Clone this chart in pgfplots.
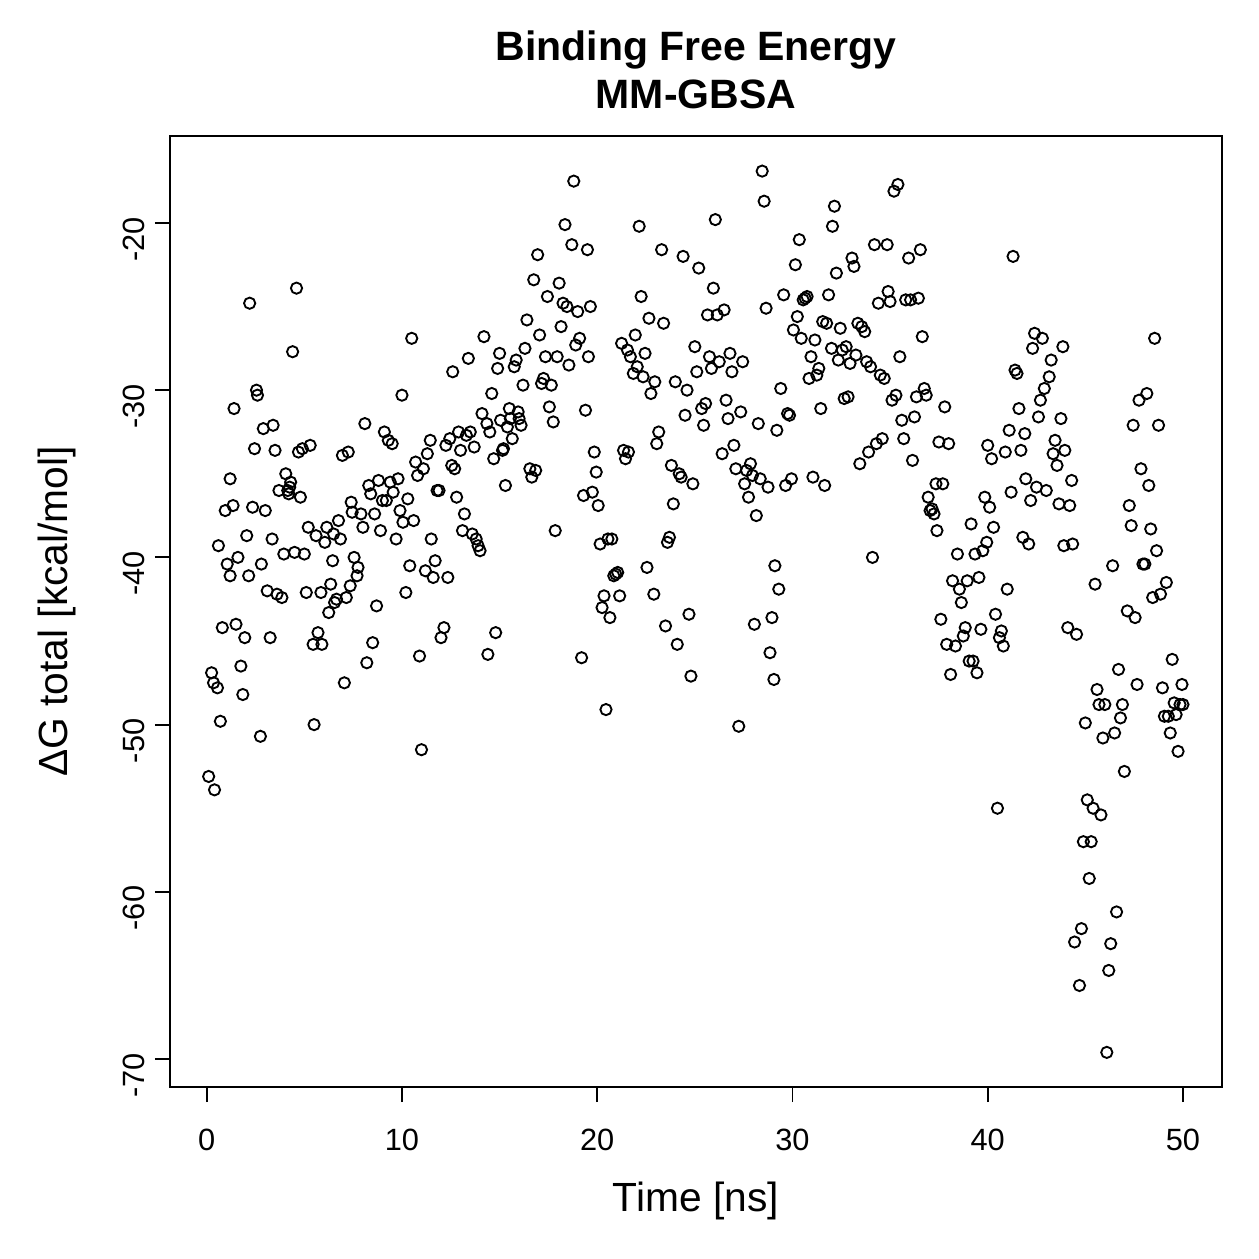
\documentclass[border=0pt]{standalone}
\usepackage{fontspec}
\setmainfont{Liberation Sans}
\usepackage{pgfplots}
\pgfplotsset{compat=1.18}
\begin{document}
\fontsize{12pt}{14.4pt}\selectfont
\begin{tikzpicture}
\useasboundingbox (-68pt,-68.8pt) rectangle (435.6pt,434.8pt);
\begin{axis}[
  at={(0,0)}, anchor=south west,
  scale only axis, width=420.8pt, height=380.4pt,
  xmin=-1.88, xmax=52.0, ymin=-71.67, ymax=-14.80,
  axis line style={line width=0.75pt},
  tick style={line width=0.75pt, black},
  tick align=outside, major tick length=6pt,
  xtick pos=left, ytick pos=left,
  xtick={0,10,20,30,40,50}, xticklabels={0,10,20,30,40,50},
  ytick={-70,-60,-50,-40,-30,-20}, yticklabels={-70,-60,-50,-40,-30,-20},
  xticklabel style={font=\fontsize{12.3pt}{14.4pt}\selectfont, anchor=north, yshift=-6.5pt},
  yticklabel style={font=\fontsize{12.3pt}{14.4pt}\selectfont, rotate=90, anchor=south, xshift=-6.5pt},
  xlabel={Time [ns]},
  ylabel={ΔG total [kcal/mol]},
  xlabel style={font=\fontsize{16.3pt}{19.2pt}\selectfont, at={(axis description cs:0.5,-0.1314)}, anchor=base, inner sep=0pt},
  ylabel style={font=\fontsize{16.3pt}{19.2pt}\selectfont, at={(axis description cs:-0.097,0.5)}, anchor=base, inner sep=0pt},
  title={Binding Free Energy\\MM-GBSA},
  title style={font=\bfseries\fontsize{16.4pt}{19.2pt}\selectfont, align=center, at={(axis description cs:0.5,1)}, anchor=south, inner sep=0pt, yshift=4.6pt},
]
\addplot[only marks, mark=o, mark size=2.25pt, mark options={line width=0.75pt, black}] table {
x y
0.1 -53.1
0.25 -46.9
0.35 -47.5
0.4 -53.9
0.55 -47.8
0.6 -39.3
0.7 -49.8
0.8 -44.2
0.95 -37.2
1.05 -40.4
1.2 -35.3
1.2 -41.1
1.35 -36.9
1.4 -31.1
1.5 -44.0
1.6 -40.0
1.75 -46.5
1.85 -48.2
1.95 -44.8
2.05 -38.7
2.15 -41.1
2.2 -24.8
2.35 -37.0
2.45 -33.5
2.55 -30.0
2.6 -30.3
2.75 -50.7
2.8 -40.4
2.9 -32.3
3.0 -37.2
3.1 -42.0
3.25 -44.8
3.35 -38.9
3.4 -32.1
3.5 -33.6
3.6 -42.2
3.7 -36.0
3.85 -42.4
3.95 -39.8
4.05 -35.0
4.15 -36.0
4.2 -36.2
4.25 -35.8
4.3 -35.5
4.4 -27.7
4.5 -39.7
4.6 -23.9
4.7 -33.7
4.8 -36.4
4.9 -33.5
5.0 -39.8
5.1 -42.1
5.2 -38.2
5.3 -33.3
5.45 -45.2
5.5 -50.0
5.6 -38.7
5.7 -44.5
5.85 -42.1
5.9 -45.2
6.05 -39.1
6.15 -38.2
6.25 -43.3
6.35 -41.6
6.45 -40.2
6.5 -38.6
6.55 -42.7
6.65 -42.5
6.75 -37.8
6.85 -38.9
6.95 -33.9
7.05 -47.5
7.15 -42.4
7.25 -33.7
7.35 -41.7
7.4 -36.7
7.45 -37.3
7.55 -40.0
7.7 -41.1
7.75 -40.6
7.9 -37.4
8.0 -38.2
8.1 -32.0
8.2 -46.3
8.3 -35.7
8.4 -36.2
8.5 -45.1
8.6 -37.4
8.7 -42.9
8.8 -35.4
8.9 -38.4
9.0 -36.6
9.1 -32.5
9.2 -36.6
9.3 -33.0
9.4 -35.5
9.5 -33.2
9.55 -36.1
9.7 -38.9
9.8 -35.3
9.9 -37.2
10.0 -30.3
10.05 -37.9
10.2 -42.1
10.3 -36.5
10.4 -40.5
10.5 -26.9
10.6 -37.8
10.7 -34.3
10.8 -35.1
10.9 -45.9
11.0 -51.5
11.1 -34.7
11.2 -40.8
11.3 -33.8
11.45 -33.0
11.5 -38.9
11.6 -41.2
11.7 -40.2
11.8 -36.0
11.9 -36.0
12.0 -44.8
12.15 -44.2
12.25 -33.3
12.35 -41.2
12.45 -32.9
12.55 -34.5
12.6 -28.9
12.7 -34.7
12.8 -36.4
12.9 -32.5
13.0 -33.6
13.1 -38.4
13.2 -37.4
13.3 -32.7
13.4 -28.1
13.5 -32.5
13.6 -38.6
13.7 -33.4
13.8 -38.9
13.9 -39.3
14.0 -39.6
14.1 -31.4
14.2 -26.8
14.35 -32.0
14.4 -45.8
14.5 -32.5
14.6 -30.2
14.7 -34.1
14.8 -44.5
14.9 -28.7
15.0 -27.8
15.05 -31.8
15.15 -33.6
15.2 -33.5
15.3 -35.7
15.4 -32.2
15.5 -31.1
15.55 -31.7
15.65 -32.9
15.75 -28.6
15.85 -28.2
15.95 -31.3
16.0 -31.7
16.1 -32.1
16.2 -29.7
16.3 -27.5
16.4 -25.8
16.55 -34.7
16.65 -35.2
16.75 -23.4
16.85 -34.8
16.95 -21.9
17.05 -26.7
17.15 -29.6
17.25 -29.3
17.35 -28.0
17.45 -24.4
17.55 -31.0
17.65 -29.7
17.75 -31.9
17.85 -38.4
17.95 -28.0
18.05 -23.6
18.15 -26.2
18.25 -24.8
18.35 -20.1
18.45 -25.0
18.55 -28.5
18.7 -21.3
18.8 -17.5
18.9 -27.3
19.0 -25.3
19.1 -26.9
19.2 -46.0
19.3 -36.3
19.4 -31.2
19.5 -21.6
19.55 -28.0
19.65 -25.0
19.75 -36.1
19.85 -33.7
19.95 -34.9
20.05 -36.9
20.15 -39.2
20.25 -43.0
20.35 -42.3
20.45 -49.1
20.55 -38.9
20.65 -43.6
20.75 -38.9
20.85 -41.1
20.95 -41.0
21.05 -40.9
21.15 -42.3
21.25 -27.2
21.35 -33.6
21.45 -34.1
21.55 -27.6
21.6 -33.7
21.7 -28.0
21.85 -29.0
21.95 -26.7
22.05 -28.6
22.15 -20.2
22.25 -24.4
22.35 -29.2
22.45 -27.8
22.55 -40.6
22.65 -25.7
22.75 -30.2
22.9 -42.2
22.95 -29.5
23.05 -33.2
23.15 -32.5
23.3 -21.6
23.4 -26.0
23.5 -44.1
23.6 -39.1
23.7 -38.8
23.8 -34.5
23.9 -36.8
24.0 -29.5
24.1 -45.2
24.2 -35.0
24.3 -35.2
24.4 -22.0
24.5 -31.5
24.6 -30.0
24.7 -43.4
24.8 -47.1
24.9 -35.6
25.0 -27.4
25.1 -28.9
25.2 -22.7
25.35 -31.1
25.45 -32.1
25.55 -30.8
25.65 -25.5
25.75 -28.0
25.85 -28.7
25.95 -23.9
26.05 -19.8
26.15 -25.5
26.25 -28.3
26.4 -33.8
26.5 -25.2
26.6 -30.6
26.7 -31.7
26.8 -27.8
26.9 -28.9
27.0 -33.3
27.1 -34.7
27.25 -50.1
27.35 -31.3
27.45 -28.3
27.55 -35.6
27.65 -34.8
27.75 -36.4
27.85 -34.4
27.95 -35.1
28.05 -44.0
28.15 -37.5
28.25 -32.0
28.35 -35.3
28.45 -16.9
28.55 -18.7
28.65 -25.1
28.75 -35.8
28.85 -45.7
28.95 -43.6
29.05 -47.3
29.1 -40.5
29.2 -32.4
29.3 -41.9
29.4 -29.9
29.55 -24.3
29.65 -35.7
29.75 -31.4
29.85 -31.5
29.95 -35.3
30.05 -26.4
30.15 -22.5
30.25 -25.6
30.35 -21.0
30.45 -26.9
30.55 -24.6
30.65 -24.5
30.75 -24.4
30.85 -29.3
30.95 -28.0
31.05 -35.2
31.15 -27.0
31.25 -29.1
31.35 -28.7
31.45 -31.1
31.55 -25.9
31.65 -35.7
31.75 -26.0
31.85 -24.3
32.0 -27.5
32.05 -20.2
32.15 -19.0
32.25 -23.0
32.35 -28.2
32.45 -26.3
32.55 -27.6
32.65 -30.5
32.75 -27.4
32.85 -30.4
32.95 -28.4
33.05 -22.1
33.15 -22.6
33.25 -27.9
33.35 -26.0
33.45 -34.4
33.55 -26.2
33.7 -26.5
33.8 -28.3
33.9 -33.7
34.0 -28.6
34.1 -40.0
34.2 -21.3
34.3 -33.2
34.4 -24.8
34.5 -29.1
34.6 -32.9
34.7 -29.3
34.85 -21.3
34.9 -24.1
35.0 -24.7
35.1 -30.6
35.2 -18.1
35.3 -30.3
35.4 -17.7
35.5 -28.0
35.6 -31.8
35.7 -32.9
35.8 -24.6
35.95 -22.1
36.05 -24.6
36.15 -34.2
36.25 -31.6
36.35 -30.4
36.45 -24.5
36.55 -21.6
36.65 -26.8
36.75 -29.9
36.85 -30.3
36.95 -36.4
37.05 -37.2
37.15 -37.1
37.25 -37.4
37.35 -35.6
37.4 -38.4
37.5 -33.1
37.6 -43.7
37.7 -35.6
37.8 -31.0
37.9 -45.2
38.0 -33.2
38.1 -47.0
38.2 -41.4
38.35 -45.3
38.45 -39.8
38.55 -41.9
38.65 -42.7
38.75 -44.7
38.85 -44.2
38.95 -41.4
39.05 -46.2
39.15 -38.0
39.25 -46.2
39.35 -39.8
39.45 -46.9
39.55 -41.2
39.65 -44.3
39.75 -39.6
39.85 -36.4
39.95 -39.1
40.0 -33.3
40.1 -37.0
40.2 -34.1
40.3 -38.2
40.4 -43.4
40.5 -55.0
40.6 -44.8
40.7 -44.4
40.8 -45.3
40.9 -33.7
41.0 -41.9
41.1 -32.4
41.2 -36.1
41.3 -22.0
41.4 -28.8
41.5 -29.0
41.6 -31.1
41.7 -33.6
41.8 -38.8
41.9 -32.6
41.95 -35.3
42.1 -39.2
42.2 -36.6
42.3 -27.5
42.4 -26.6
42.5 -35.8
42.6 -31.6
42.7 -30.6
42.8 -26.9
42.9 -29.9
43.0 -36.0
43.15 -29.2
43.25 -28.2
43.35 -33.8
43.45 -33.0
43.55 -34.5
43.65 -36.8
43.75 -31.7
43.85 -27.4
43.9 -39.3
43.95 -33.6
44.1 -44.2
44.2 -36.9
44.3 -35.4
44.35 -39.2
44.45 -63.0
44.55 -44.6
44.7 -65.6
44.8 -62.2
44.9 -57.0
45.0 -49.9
45.1 -54.5
45.2 -59.2
45.3 -57.0
45.4 -55.0
45.5 -41.6
45.6 -47.9
45.7 -48.8
45.8 -55.4
45.9 -50.8
46.0 -48.8
46.1 -69.6
46.2 -64.7
46.3 -63.1
46.4 -40.5
46.5 -50.5
46.6 -61.2
46.7 -46.7
46.8 -49.6
46.9 -48.8
47.0 -52.8
47.15 -43.2
47.25 -36.9
47.35 -38.1
47.45 -32.1
47.55 -43.6
47.65 -47.6
47.75 -30.6
47.85 -34.7
47.95 -40.4
48.05 -40.4
48.15 -30.2
48.25 -35.7
48.35 -38.3
48.45 -42.4
48.55 -26.9
48.65 -39.6
48.75 -32.1
48.85 -42.2
48.95 -47.8
49.05 -49.5
49.15 -41.5
49.25 -49.5
49.35 -50.5
49.45 -46.1
49.55 -48.7
49.65 -49.4
49.75 -51.6
49.85 -48.8
49.95 -47.6
50.0 -48.8
};
\end{axis}
\end{tikzpicture}
\end{document}
